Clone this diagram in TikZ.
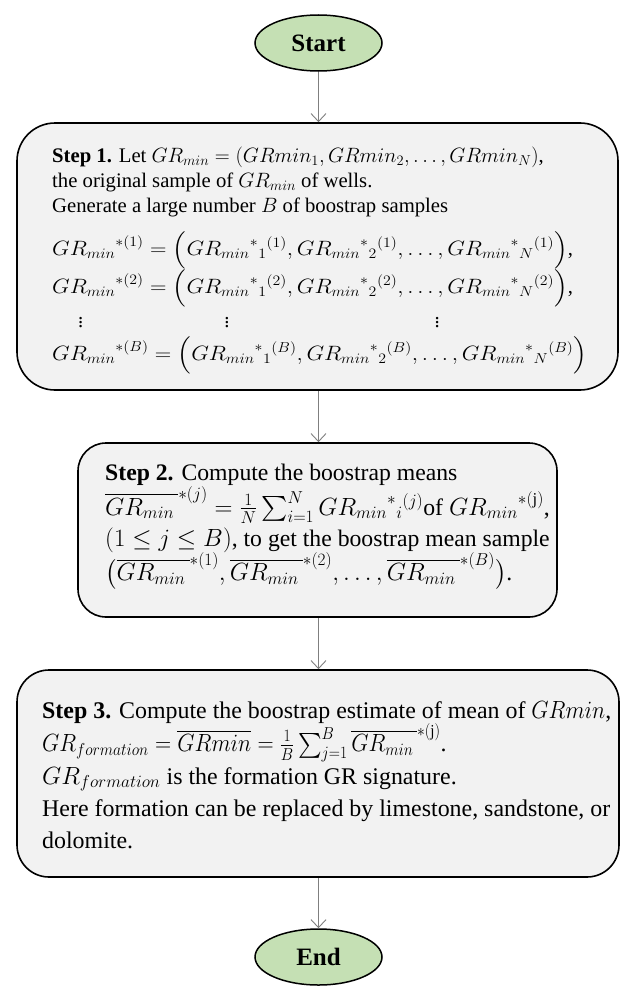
\documentclass[tikz,border=0pt]{standalone}
\usepackage{amsmath}
\usepackage{graphicx}
\usepackage{fontspec}
\setmainfont{Liberation Serif}
\usetikzlibrary{shapes.geometric,arrows.meta}
\definecolor{termgreen}{HTML}{C5E0B4}
\definecolor{boxgray}{HTML}{F2F2F2}
\definecolor{arrowgray}{HTML}{7F7F7F}
\newcommand{\grm}{{GR_{min}}}
\newcommand{\grbar}{\overline{GR_{min}\,}}
\newcommand{\widemath}[1]{\scalebox{1.1}[1]{$#1$}}
\newcommand{\narrowmath}[1]{\scalebox{0.9}[1]{$#1$}}
\begin{document}
\begin{tikzpicture}[x=1pt,y=-1pt,
  terminal/.style={ellipse, draw=black, line width=1.5pt, fill=termgreen,
    minimum width=127pt, minimum height=56pt, inner sep=0pt,
    font=\fontsize{25}{30}\selectfont\bfseries},
  stepbox/.style={rectangle, draw=black, line width=1.6pt, fill=boxgray,
    inner sep=0pt},
  steptext/.style={align=left, inner sep=0pt, anchor=north west},
  flow/.style={draw=arrowgray, line width=1pt,
    -{Straight Barb[length=8pt,width=15pt,line width=0.9pt]}}
]
\useasboundingbox (0,0) rectangle (620,990);

\node[terminal] (start) at (318.5,43) {Start};

% boxes
\node[stepbox, rounded corners=38pt, minimum width=601pt, minimum height=267pt] (s1) at (317.5,256.5) {};
\node[stepbox, rounded corners=28pt, minimum width=479pt, minimum height=174pt] (s2) at (317.5,530) {};
\node[stepbox, rounded corners=32pt, minimum width=602pt, minimum height=207pt] (s3) at (318,773.5) {};

\node[terminal] (end) at (318.5,957) {End};

% texts
\node[steptext, font={\fontsize{20.7}{25}\selectfont\lineskiplimit=-\maxdimen}] (t1) at (52,146.5) {%
\textbf{Step 1.} Let $GR_{min}=(GRmin_1,GRmin_2,\dots,GRmin_N)$,\\
the original sample of $GR_{min}$ of wells.\\
Generate a large number $B$ of boostrap samples\\[18pt]
\widemath{\grm^{*(1)}=\Bigl(\grm^{*}{}_{1}{}^{(1)},\grm^{*}{}_{2}{}^{(1)},\dots,\grm^{*}{}_{N}{}^{(1)}\Bigr)},\\[13pt]
\widemath{\grm^{*(2)}=\Bigl(\grm^{*}{}_{1}{}^{(2)},\grm^{*}{}_{2}{}^{(2)},\dots,\grm^{*}{}_{N}{}^{(2)}\Bigr)},\\[9pt]
\hspace*{26pt}$\vdots$\hspace{141pt}$\vdots$\hspace{205pt}$\vdots$\\[8pt]
\widemath{\grm^{*(B)}=\Bigl(\grm^{*}{}_{1}{}^{(B)},\grm^{*}{}_{2}{}^{(B)},\dots,\grm^{*}{}_{N}{}^{(B)}\Bigr)}};

\node[steptext, font={\fontsize{23.7}{28.5}\selectfont\lineskiplimit=-\maxdimen}] (t2) at (105,464) {%
\textbf{Step 2.} Compute the boostrap means\\[6pt]
$\grbar^{*(j)}=\frac{1}{N}\sum_{i=1}^{N}\grm^{*}{}_{i}{}^{(j)}$of $\grm^{*(\mathrm{j})}$,\\[3pt]
$(1\le j\le B)$, to get the boostrap mean sample\\[5.5pt]
$\bigl(\grbar^{*(1)},\grbar^{*(2)},\dots,\grbar^{*(B)}\bigr)$.};

\node[steptext, font={\fontsize{23.9}{28.5}\selectfont\lineskiplimit=-\maxdimen}] (t3) at (42,701) {%
\textbf{Step 3.} Compute the boostrap estimate of mean of \narrowmath{GRmin},\\[5pt]
\narrowmath{GR_{formation}=\overline{GRmin}=\frac{1}{B}\sum_{j=1}^{B}\grbar^{*(\mathrm{j})}}.\\[4pt]
$GR_{formation}$ is the formation GR signature.\\[4pt]
Here formation can be replaced by limestone, sandstone, or\\[3pt]
dolomite.};

% connectors
\draw[flow] (start.south) -- (start.south |- s1.north);
\draw[flow] (s1.south -| start.south) -- (s2.north -| start.south);
\draw[flow] (s2.south -| start.south) -- (s3.north -| start.south);
\draw[flow] (s3.south -| end.north) -- (end.north);
\end{tikzpicture}
\end{document}
